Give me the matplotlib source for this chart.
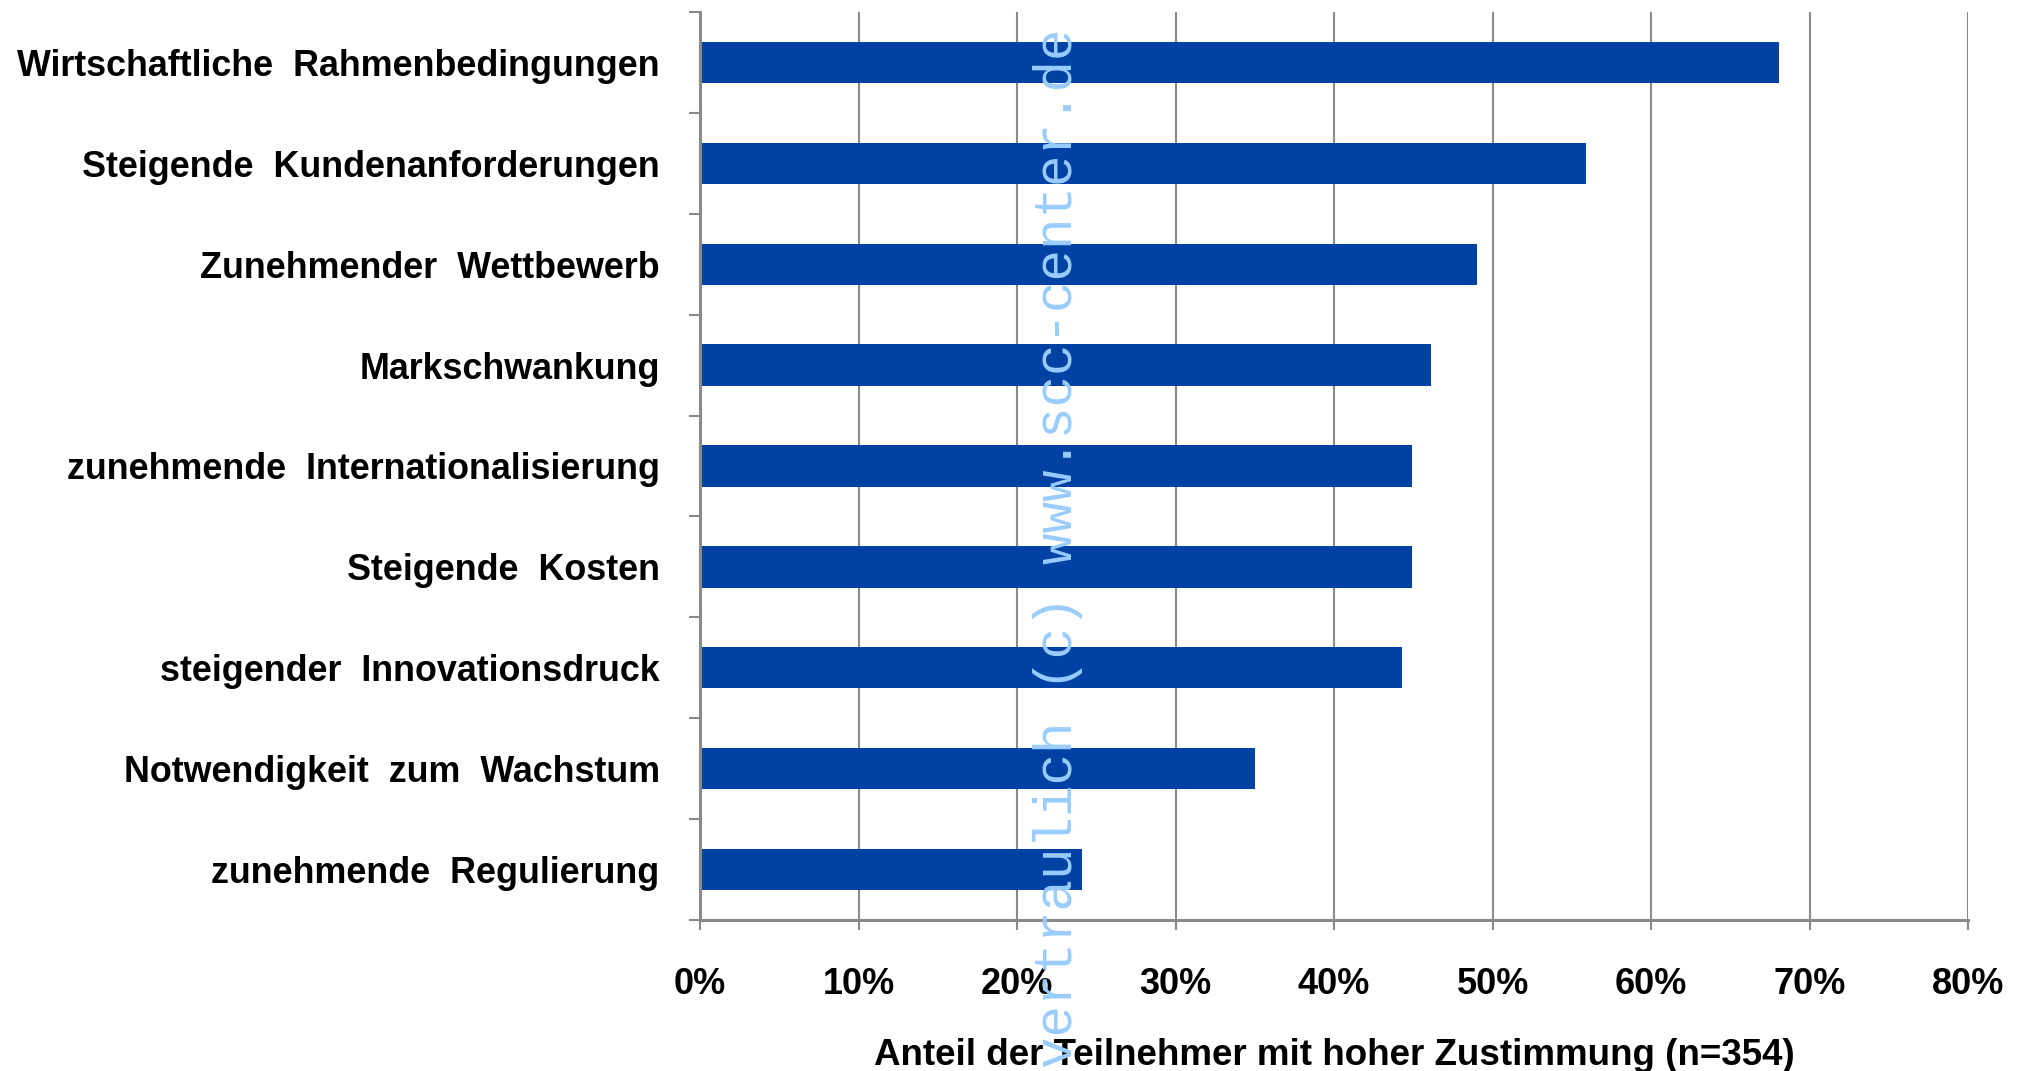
import matplotlib as mpl
mpl.use('Agg')
import matplotlib.pyplot as plt
from matplotlib.ticker import FixedLocator, PercentFormatter

#
#--- data (top to bottom)
#
categories = ['Wirtschaftliche  Rahmenbedingungen',
              'Steigende  Kundenanforderungen',
              'Zunehmender  Wettbewerb',
              'Markschwankung',
              'zunehmende  Internationalisierung',
              'Steigende  Kosten',
              'steigender  Innovationsdruck',
              'Notwendigkeit  zum  Wachstum',
              'zunehmende  Regulierung']
shares     = [68.1, 55.9, 49.0, 46.1, 44.9, 44.9, 44.3, 35.0, 24.1]
xticks     = [0, 10, 20, 30, 40, 50, 60, 70, 80]
xname      = 'Anteil der Teilnehmer mit hoher Zustimmung (n=354)'
watermark  = 'vertraulich (c) www.scc-center.de'

bar_color  = '#0041A4'
grid_color = '#8A8A8A'
mark_color = '#99CCFF'

plt.rcParams['font.family'] = ['Liberation Sans', 'DejaVu Sans']

fig = plt.figure(figsize=(20.29, 10.71), dpi=100)
ax  = fig.add_axes([0.3450, 0.1410, 0.9700 - 0.3450, 0.9888 - 0.1410])

ypos = list(range(len(categories)))
ax.barh(ypos, shares, height=0.41, color=bar_color, zorder=3)

ax.set_xlim(0, 80)
ax.set_ylim(len(categories) - 0.5, -0.5)

#
#--- grid and spines
#
ax.xaxis.set_major_locator(FixedLocator(xticks))
ax.xaxis.set_major_formatter(PercentFormatter(decimals=0))
ax.grid(axis='x', color=grid_color, lw=1.5, zorder=1)
for side in ['top', 'right']:
    ax.spines[side].set_visible(False)
for side in ['left', 'bottom']:
    ax.spines[side].set_color(grid_color)
    ax.spines[side].set_linewidth(2.2)
    ax.spines[side].set_zorder(4)

ax.tick_params(axis='x', direction='out', length=7.5, width=1.5, color=grid_color,
               pad=26, labelsize=26)
for lab in ax.get_xticklabels():
    lab.set_fontweight('bold')

ax.set_yticks(ypos)
ax.set_yticklabels(categories, fontsize=25.8, fontweight='bold')
ax.tick_params(axis='y', which='major', length=0, pad=29)
ax.set_yticks([y - 0.5 for y in range(len(categories) + 1)], minor=True)
ax.tick_params(axis='y', which='minor', direction='out', length=8, width=1.5, color=grid_color)

ax.set_xlabel(xname, fontsize=26.5, fontweight='bold', labelpad=26)

#
#--- watermark drawn over the bars
#
fig.text(1072 / 2029, 1 - 28 / 1071, watermark, rotation=90, rotation_mode='anchor',
         ha='right', va='baseline', fontsize=37.8, color=mark_color,
         family=['Liberation Mono', 'DejaVu Sans Mono'], zorder=10)

fig.savefig('out.png', dpi=100)
